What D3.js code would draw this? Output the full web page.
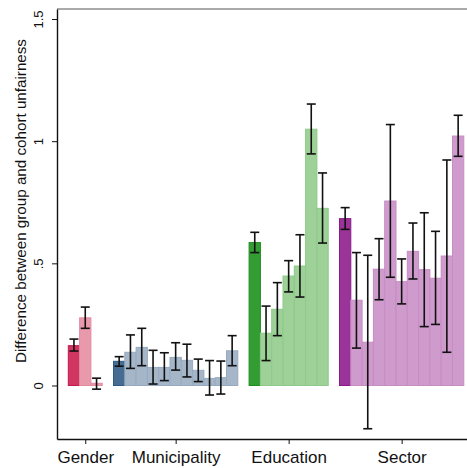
<!DOCTYPE html>
<html>
<head>
<meta charset="utf-8">
<script src="https://cdn.jsdelivr.net/npm/d3@7"></script>
<style>
  body { margin: 0; background: #fff; }
  svg { display: block; font-family: "Liberation Sans", Arial, sans-serif; }
</style>
</head>
<body>
<svg id="chart" width="467" height="468"></svg>
<script>
// group names (x tick labels)
const groups = ['Gender', 'Municipality', 'Education', 'Sector'];

// point estimates per group, first bar is the dark reference bar
const genderEst = [0.163, 0.277, 0.009];
const genderLo  = [0.141, 0.234, -0.015];
const genderHi  = [0.190, 0.321, 0.030];

const muniEst = [0.099, 0.136, 0.156, 0.074, 0.074, 0.115, 0.103, 0.062, 0.029, 0.032, 0.142];
const muniLo  = [0.079, 0.070, 0.081, 0.006, 0.020, 0.063, 0.035, 0.016, -0.039, -0.035, 0.081];
const muniHi  = [0.118, 0.207, 0.234, 0.144, 0.134, 0.175, 0.169, 0.108, 0.102, 0.100, 0.204];

const eduEst = [0.585, 0.214, 0.312, 0.448, 0.489, 1.049, 0.725];
const eduLo  = [0.544, 0.102, 0.204, 0.383, 0.362, 0.948, 0.583];
const eduHi  = [0.627, 0.325, 0.421, 0.511, 0.617, 1.152, 0.870];

const sectorEst = [0.683, 0.349, 0.177, 0.476, 0.755, 0.425, 0.549, 0.474, 0.439, 0.530, 1.021];
const sectorLo  = [0.639, 0.153, -0.177, 0.351, 0.443, 0.334, 0.436, 0.241, 0.250, 0.136, 0.938];
const sectorHi  = [0.728, 0.544, 0.533, 0.601, 1.068, 0.518, 0.665, 0.707, 0.631, 0.923, 1.106];

const yTicks = [0, 0.5, 1, 1.5];
const yTitle = 'Difference between group and cohort unfairness';

// colours: [dark fill, dark stroke, light fill, light stroke]
const colours = {
  Gender:       ['#d03661', '#c31a4b', '#e899ab', '#e38ba0'],
  Municipality: ['#466c92', '#2f5a83', '#a5b6c9', '#97aabf'],
  Education:    ['#339c33', '#1f8c1f', '#9dd197', '#8ec98a'],
  Sector:       ['#9a3499', '#891b89', '#cf9bcd', '#c68cc4']
};

const est = [genderEst, muniEst, eduEst, sectorEst];
const lo  = [genderLo, muniLo, eduLo, sectorLo];
const hi  = [genderHi, muniHi, eduHi, sectorHi];

// lay the bars out in slots, one empty slot between groups
let rows = [];
let centres = [];
let slot = 0;
groups.forEach((g, gi) => {
  let start = slot;
  est[gi].forEach((v, i) => {
    rows.push({ group: g, i: i, slot: slot, est: v, lo: lo[gi][i], hi: hi[gi][i] });
    slot++;
  });
  centres.push((start + slot) / 2);
  slot++;
});

const svg = d3.select('#chart');

const x = d3.scaleLinear().domain([-1, 36]).range([57, 475.1]);
const y = d3.scaleLinear().domain([-0.219, 1.541]).range([439, 9]);
const bw = x(1) - x(0);

// top frame line
svg.append('line')
  .attr('x1', 57).attr('x2', 467)
  .attr('y1', y(1.541)).attr('y2', y(1.541))
  .attr('stroke', '#555').attr('stroke-width', 1);

// bars
svg.append('g').selectAll('rect')
  .data(rows)
  .join('rect')
  .attr('x', d => x(d.slot))
  .attr('width', bw)
  .attr('y', d => y(Math.max(0, d.est)))
  .attr('height', d => Math.abs(y(d.est) - y(0)))
  .attr('fill', d => colours[d.group][d.i === 0 ? 0 : 2])
  .attr('stroke', d => colours[d.group][d.i === 0 ? 1 : 3])
  .attr('stroke-width', 1);

// error bars
const eb = svg.append('g').attr('stroke', '#111').attr('stroke-width', 1.6);
rows.forEach(d => {
  let cx = x(d.slot) + bw / 2;
  eb.append('line').attr('x1', cx).attr('x2', cx).attr('y1', y(d.lo)).attr('y2', y(d.hi));
  eb.append('line').attr('x1', cx - 4.5).attr('x2', cx + 4.5).attr('y1', y(d.lo)).attr('y2', y(d.lo));
  eb.append('line').attr('x1', cx - 4.5).attr('x2', cx + 4.5).attr('y1', y(d.hi)).attr('y2', y(d.hi));
});

// y axis
const yAxis = svg.append('g')
  .attr('transform', 'translate(57,0)')
  .call(d3.axisLeft(y).tickValues(yTicks).tickSize(5).tickSizeOuter(0)
    .tickFormat(d => d === 0 ? '0' : d3.format('.1~f')(d).replace(/^0/, '')));
yAxis.select('.domain').attr('stroke', '#111').attr('stroke-width', 1.4);
yAxis.selectAll('.tick line').attr('stroke', '#111');
yAxis.selectAll('.tick text')
  .attr('transform', 'rotate(-90)')
  .attr('x', 0).attr('y', -14)
  .attr('dy', 0)
  .attr('text-anchor', 'middle')
  .attr('font-size', 13)
  .attr('fill', '#111');

// x axis, ticks at the middle of each group
const xAxis = svg.append('g')
  .attr('transform', 'translate(0,439)')
  .call(d3.axisBottom(x).tickValues(centres).tickSize(5).tickSizeOuter(0)
    .tickFormat((d, i) => groups[i]));
xAxis.select('.domain').attr('stroke', '#111').attr('stroke-width', 1.4);
xAxis.selectAll('.tick line').attr('stroke', '#111');
xAxis.selectAll('.tick text')
  .attr('y', 23.5).attr('dy', 0)
  .attr('font-size', 17)
  .attr('fill', '#111');

// y title
svg.append('text')
  .attr('transform', 'translate(25.5,201) rotate(-90)')
  .attr('text-anchor', 'middle')
  .attr('font-size', 15.2)
  .attr('fill', '#111')
  .text(yTitle);
</script>
</body>
</html>
